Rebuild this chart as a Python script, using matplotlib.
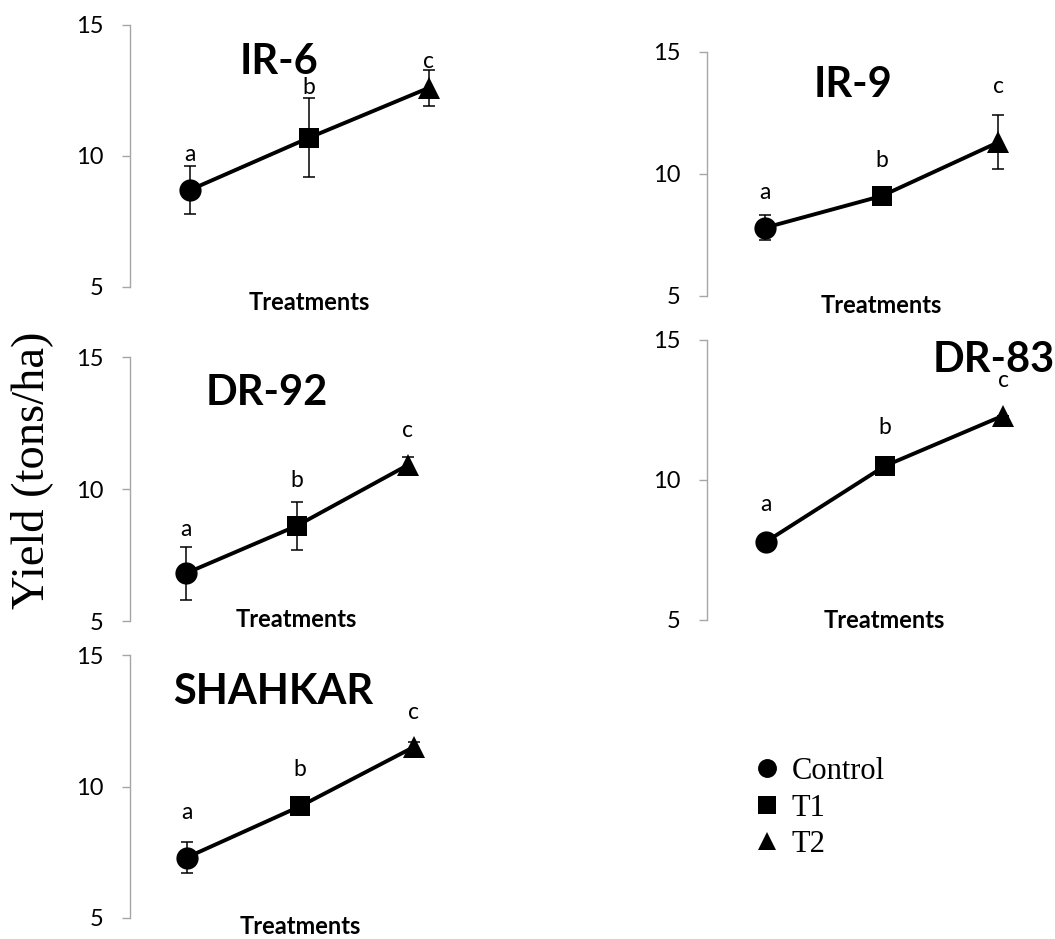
import matplotlib
matplotlib.use('Agg')
import matplotlib.pyplot as plt

# figure size in pixels (dpi 100)
W, H = 1055, 939

treatments = ['Control', 'T1', 'T2']
markers = ['o', 's', '^']
marker_sizes = [16, 15, 16]
letters = ['a', 'b', 'c']
x = [1, 2, 3]

varieties = ['IR-6', 'IR-9', 'DR-92', 'DR-83', 'SHAHKAR']

# mean yield (tons/ha) and error for each treatment
yield_ir6 = [8.7, 10.7, 12.6]
err_ir6 = [0.9, 1.5, 0.7]
yield_ir9 = [7.8, 9.1, 11.3]
err_ir9 = [0.5, 0.2, 1.1]
yield_dr92 = [6.8, 8.6, 10.9]
err_dr92 = [1.0, 0.9, 0.3]
yield_dr83 = [7.8, 10.5, 12.3]
err_dr83 = [0.0, 0.0, 0.0]
yield_shahkar = [7.3, 9.25, 11.5]
err_shahkar = [0.6, 0.2, 0.2]

yields = [yield_ir6, yield_ir9, yield_dr92, yield_dr83, yield_shahkar]
errors = [err_ir6, err_ir9, err_dr92, err_dr83, err_shahkar]

# where the significance letters sit (y in data units)
letter_y = [[10.05, 12.63, 13.59],
            [9.26, 10.57, 13.57],
            [8.48, 10.34, 12.23],
            [9.11, 11.86, 13.57],
            [9.03, 10.63, 12.83]]

# panel boxes in pixels: left, top, bottom, category spacing
boxes = [(130, 25, 287, 119.5),
         (707, 52, 296, 116.5),
         (130, 357, 621, 111),
         (707, 340, 620, 118.5),
         (130, 655, 918, 113.5)]

# title position (data coords) and "Treatments" y
title_pos = [(1.75, 13.6), (1.75, 13.65), (1.73, 13.64), (2.92, 14.3), (1.76, 13.6)]
xlabel_y = [4.39, 4.63, 5.04, 5.0, 4.66]

sans = 'Lato'
serif = 'Liberation Serif'
axis_grey = '#A6A6A6'

fig = plt.figure(figsize=(W / 100, H / 100), dpi=100)

axes = []
for i, name in enumerate(varieties):
    left, top, bottom, sp = boxes[i]
    ax = fig.add_axes([left / W, 1 - bottom / H, 3 * sp / W, (bottom - top) / H])
    axes.append(ax)

    ax.errorbar(x, yields[i], yerr=errors[i], fmt='none', ecolor='black',
                elinewidth=1.1, capsize=4.5, capthick=1.1, zorder=2)
    ax.plot(x, yields[i], color='black', lw=2.8, zorder=3)
    for j in range(3):
        ax.plot(x[j], yields[i][j], linestyle='none', marker=markers[j],
                markersize=marker_sizes[j], color='black', mew=0,
                label=treatments[j], zorder=4, clip_on=False)
        ax.text(x[j], letter_y[i][j], letters[j], ha='center', va='center',
                fontsize=16.5, family=sans)

    ax.text(title_pos[i][0], title_pos[i][1], name, ha='center', va='center',
            fontsize=30, fontweight='bold', family=sans)
    ax.text(2, xlabel_y[i], 'Treatments', ha='center', va='center',
            fontsize=17, fontweight='bold', family=sans, clip_on=False)

    ax.set_xlim(0.5, 3.5)
    ax.set_ylim(5, 15)
    ax.set_yticks([5, 10, 15])
    ax.set_xticks([])
    for s in ['top', 'right', 'bottom']:
        ax.spines[s].set_visible(False)
    ax.spines['left'].set_color(axis_grey)
    ax.spines['left'].set_linewidth(1.0)
    ax.tick_params(axis='y', direction='out', length=6, width=1.0,
                   color=axis_grey, pad=13, labelsize=17)
    for lab in ax.get_yticklabels():
        lab.set_family(sans)
    ax.patch.set_alpha(0)

fig.text(32 / W, 1 - 470 / H, 'Yield (tons/ha)', rotation=90, ha='center',
         va='center', fontsize=33.5, family=serif)

handles, labels = axes[0].get_legend_handles_labels()
fig.legend(handles, labels, loc='center left', bbox_to_anchor=(755 / W, 1 - 808 / H),
           frameon=False, prop={'family': serif, 'size': 22}, markerscale=0.85,
           handlelength=0.8, handletextpad=0.4, labelspacing=0.25, borderpad=0,
           borderaxespad=0)

fig.savefig('out.png', dpi=100)
